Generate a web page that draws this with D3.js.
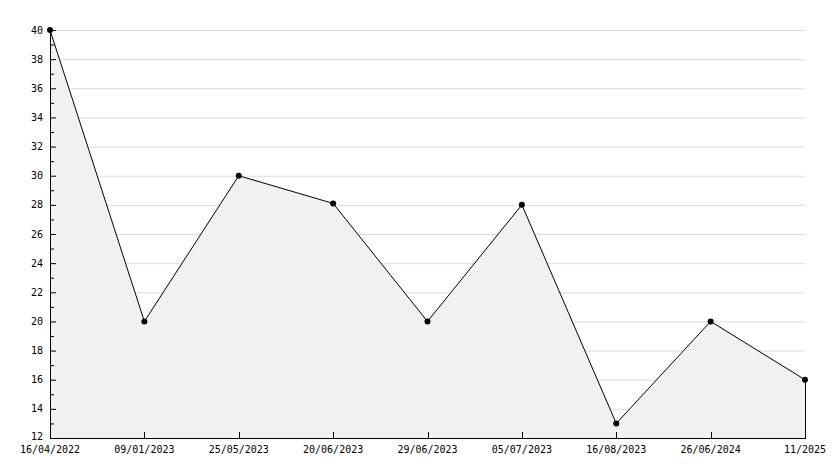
<!DOCTYPE html>
<html><head><meta charset="utf-8">
<script src="https://cdn.jsdelivr.net/npm/d3@7/dist/d3.min.js"></script>
<style>body{margin:0;background:#fff}svg{display:block}</style>
</head><body><svg id="c" width="834" height="468"></svg>
<script>
const categories = ["16/04/2022","09/01/2023","25/05/2023","20/06/2023","29/06/2023","05/07/2023","16/08/2023","26/06/2024","11/2025"];
const values = [40, 20, 30, 28.1, 20, 28, 13, 20, 16];
const yTicks = [12,14,16,18,20,22,24,26,28,30,32,34,36,38,40];

const svg = d3.select("#c");
const L = 50, R = 805, T = 30, B = 438;
const x = d3.scalePoint().domain(categories).range([L, R]);
const y = d3.scaleLinear().domain([12, 40]).range([B, T]);
const font = "'DejaVu Sans Mono', monospace";

// grid
svg.append("g").selectAll("line").data(yTicks.slice(1)).join("line")
  .attr("x1", L).attr("x2", R)
  .attr("y1", d => y(d) + 0.5).attr("y2", d => y(d) + 0.5)
  .attr("stroke", "#dcdcdc").attr("stroke-width", 1);

// area
const area = d3.area().x(d => x(d.c)).y0(B).y1(d => y(d.v));
const data = categories.map((c, i) => ({c, v: values[i]}));
svg.append("path").datum(data).attr("d", area).attr("fill", "#f1f1f1");

// right edge line
svg.append("line").attr("x1", x(categories[categories.length-1])+0.5).attr("x2", x(categories[categories.length-1])+0.5)
  .attr("y1", y(values[values.length-1])).attr("y2", B).attr("stroke", "#000");

// line
svg.append("path").datum(data)
  .attr("d", d3.line().x(d => x(d.c)).y(d => y(d.v)))
  .attr("fill", "none").attr("stroke", "#000").attr("stroke-width", 1);

// y axis
const yAxis = svg.append("g");
yAxis.append("line").attr("x1", L + 0.5).attr("x2", L + 0.5).attr("y1", T).attr("y2", B).attr("stroke", "#000");
const minor = d3.range(13, 40, 2);
yAxis.selectAll("line.mi").data(minor).join("line").attr("class","mi")
  .attr("x1", L).attr("x2", L + 4).attr("y1", d => y(d) + 0.5).attr("y2", d => y(d) + 0.5).attr("stroke", "#000");
yAxis.selectAll("line.ma").data(yTicks).join("line").attr("class","ma")
  .attr("x1", L).attr("x2", L + 6).attr("y1", d => y(d) + 0.5).attr("y2", d => y(d) + 0.5).attr("stroke", "#000");
yAxis.selectAll("text").data(yTicks).join("text")
  .attr("x", 43).attr("y", d => d === 12 ? y(d) - 2 : y(d))
  .attr("dy", "0.35em").attr("text-anchor", "end")
  .attr("font-family", font).attr("font-size", 10).attr("fill", "#000").text(d => d);

// x axis
const xAxis = svg.append("g");
xAxis.append("line").attr("x1", L).attr("x2", R + 1).attr("y1", B + 0.5).attr("y2", B + 0.5).attr("stroke", "#000");
xAxis.selectAll("line.t").data(categories).join("line").attr("class","t")
  .attr("x1", d => Math.round(x(d)) + 0.5).attr("x2", d => Math.round(x(d)) + 0.5)
  .attr("y1", B).attr("y2", B - 6).attr("stroke", "#000");
xAxis.selectAll("text").data(categories).join("text")
  .attr("x", d => x(d)).attr("y", 449).attr("dy", "0.35em")
  .attr("text-anchor", "middle")
  .attr("font-family", font).attr("font-size", 10).attr("fill", "#000").text(d => d);

// markers
svg.append("g").selectAll("circle").data(data).join("circle")
  .attr("cx", d => x(d.c)).attr("cy", d => y(d.v)).attr("r", 3).attr("fill", "#000");
</script></body></html>
